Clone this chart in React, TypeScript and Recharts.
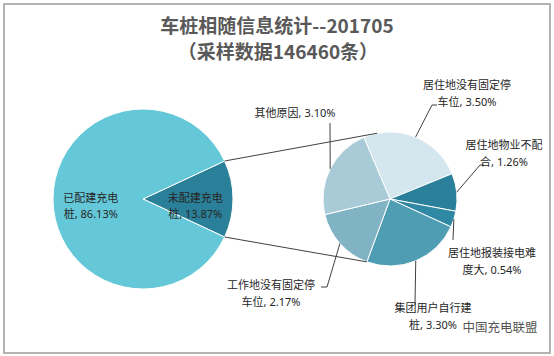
import React from 'react';
import { PieChart, Pie, Cell } from 'recharts';

// data
const MAIN_NAMES = ['未配建充电桩', '已配建充电桩'];
const MAIN_VALUES = [13.87, 86.13];

const SUB_NAMES = [
  '居住地没有固定停车位',
  '居住地物业不配合',
  '居住地报装接电难度大',
  '集团用户自行建桩',
  '工作地没有固定停车位',
  '其他原因',
];
const SUB_VALUES = [3.5, 1.26, 0.54, 3.3, 2.17, 3.1];

const TITLE = '车桩相随信息统计--201705';
const SUBTITLE = '（采样数据146460条）';

// layout
const W = 554;
const H = 356;
const MAIN = { cx: 143, cy: 199, r: 90 };
const SUB = { cx: 390, cy: 199, r: 67, start: 113 };
const MAIN_COLORS = ['#2b8099', '#64c8d9'];
const SUB_COLORS = ['#d5e7ee', '#2a7f9a', '#3089a4', '#4f9db3', '#80b3c4', '#a9cbd7'];
const FONT = '"Noto Sans", "Noto Sans CJK SC", sans-serif';
const TITLE_FONT = '"Noto Sans CJK SC", sans-serif';
const TEXT_COLOR = '#262626';

// label placement for the secondary pie, offsets from its centre
const SUB_LABELS = [
  { wrap: 8, lx: 77, ly: -114, pts: [[42, -94], [47, -94]] },
  { wrap: 7, lx: 114, ly: -54, pts: [[90, -34], [94, -34]] },
  { wrap: 8, lx: 102, ly: 54, pts: [[63, 41]] },
  { wrap: 7, lx: 43, ly: 109, pts: [[25, 106]] },
  { wrap: 8, lx: -119, ly: 86, pts: [[-63, 88], [-69, 88]] },
  { wrap: 99, lx: -95, ly: -86, pts: [[-60, -76]] },
];

const RAD = Math.PI / 180;
const polar = (cx: number, cy: number, r: number, deg: number) => [
  cx + r * Math.cos(deg * RAD),
  cy - r * Math.sin(deg * RAD),
];

const mainData = MAIN_NAMES.map((name, i) => ({ name, value: MAIN_VALUES[i] }));
const subData = SUB_NAMES.map((name, i) => ({ name, value: SUB_VALUES[i] }));

const mainTotal = MAIN_VALUES.reduce((a, b) => a + b, 0);
const mainStart = ((MAIN_VALUES[0] / mainTotal) * 360) / 2;

const subTotal = SUB_VALUES.reduce((a, b) => a + b, 0);

const splitLabel = (name: string, value: number, wrap: number) => {
  const v = `${value.toFixed(2)}%`;
  if (wrap >= name.length) return [`${name}, ${v}`];
  return [name.slice(0, wrap), `${name.slice(wrap)}, ${v}`];
};

const renderMainLabel = (props: any) => {
  const { cx, cy, midAngle, outerRadius, index } = props;
  const [x, y] = polar(cx, cy, outerRadius * 0.58, midAngle);
  const name = MAIN_NAMES[index];
  const lines = splitLabel(name, MAIN_VALUES[index], name.length - 1);
  return (
    <text
      key={`ml-${index}`}
      x={x}
      y={y}
      textAnchor="middle"
      fontFamily={FONT}
      fontSize={11}
      fill={TEXT_COLOR}
    >
      <tspan x={x} dy={3}>{lines[0]}</tspan>
      <tspan x={x} dy={16}>{lines[1]}</tspan>
    </text>
  );
};

const renderSubLabel = (props: any) => {
  const { cx, cy, midAngle, outerRadius, index } = props;
  const cfg = SUB_LABELS[index];
  const [sx, sy] = polar(cx, cy, outerRadius, midAngle);
  const pts = [[sx, sy], ...cfg.pts.map(([dx, dy]) => [cx + dx, cy + dy])];
  const lines = splitLabel(SUB_NAMES[index], SUB_VALUES[index], cfg.wrap);
  const x = cx + cfg.lx;
  const y = cy + cfg.ly;
  return (
    <g key={`sl-${index}`}>
      <polyline
        points={pts.map((p) => p.join(',')).join(' ')}
        fill="none"
        stroke="#404040"
        strokeWidth={1}
      />
      <text x={x} y={y} textAnchor="middle" fontFamily={FONT} fontSize={11} fill={TEXT_COLOR}>
        {lines.map((l, i) => (
          <tspan key={i} x={x} dy={i === 0 ? 4 : 17}>
            {l}
          </tspan>
        ))}
      </text>
    </g>
  );
};

// connector lines between the cut slice and the secondary pie
const Connectors = () => {
  const a = polar(MAIN.cx, MAIN.cy, MAIN.r, mainStart);
  const b = polar(MAIN.cx, MAIN.cy, MAIN.r, -mainStart);
  const topAngle = 101;
  const botAngle =
    SUB.start - (360 * (SUB_VALUES[0] + SUB_VALUES[1] + SUB_VALUES[2] + SUB_VALUES[3])) / subTotal;
  const c = polar(SUB.cx, SUB.cy, SUB.r, topAngle);
  const d = polar(SUB.cx, SUB.cy, SUB.r, botAngle);
  return (
    <g>
      <line x1={a[0]} y1={a[1]} x2={c[0]} y2={c[1]} stroke="#404040" strokeWidth={1} />
      <line x1={b[0]} y1={b[1]} x2={d[0]} y2={d[1]} stroke="#404040" strokeWidth={1} />
    </g>
  );
};

export default function App() {
  return (
    <div style={{ position: 'absolute', left: 0, top: 0, width: W, height: H, background: '#fff' }}>
      <PieChart width={W} height={H} margin={{ top: 0, right: 0, bottom: 0, left: 0 }}>
        <Pie
          data={mainData}
          dataKey="value"
          nameKey="name"
          cx={MAIN.cx}
          cy={MAIN.cy}
          outerRadius={MAIN.r}
          startAngle={mainStart}
          endAngle={mainStart - 360}
          stroke="#ffffff"
          strokeWidth={1}
          label={renderMainLabel}
          labelLine={false}
          isAnimationActive={false}
        >
          {mainData.map((_, i) => (
            <Cell key={`m-${i}`} fill={MAIN_COLORS[i]} />
          ))}
        </Pie>
        <Pie
          data={subData}
          dataKey="value"
          nameKey="name"
          cx={SUB.cx}
          cy={SUB.cy}
          outerRadius={SUB.r}
          startAngle={SUB.start}
          endAngle={SUB.start - 360}
          stroke="#ffffff"
          strokeWidth={1}
          label={renderSubLabel}
          labelLine={false}
          isAnimationActive={false}
        >
          {subData.map((_, i) => (
            <Cell key={`s-${i}`} fill={SUB_COLORS[i]} />
          ))}
        </Pie>
      </PieChart>
      <svg
        width={W}
        height={H}
        style={{ position: 'absolute', left: 0, top: 0, pointerEvents: 'none' }}
      >
        <rect x={4} y={4} width={546} height={349} fill="none" stroke="#b3b3b3" strokeWidth={2} />
        <Connectors />
        <text
          x={277}
          y={33}
          textAnchor="middle"
          fontFamily={TITLE_FONT}
          fontWeight={700}
          fontSize={19}
          fill="#595959"
        >
          {TITLE}
        </text>
        <text
          x={278}
          y={59}
          textAnchor="middle"
          fontFamily={TITLE_FONT}
          fontWeight={700}
          fontSize={19}
          fill="#595959"
        >
          {SUBTITLE}
        </text>
        <text
          x={500}
          y={332}
          textAnchor="middle"
          fontFamily={TITLE_FONT}
          fontSize={12.5}
          fill="#555555"
        >
          中国充电联盟
        </text>
      </svg>
    </div>
  );
}
